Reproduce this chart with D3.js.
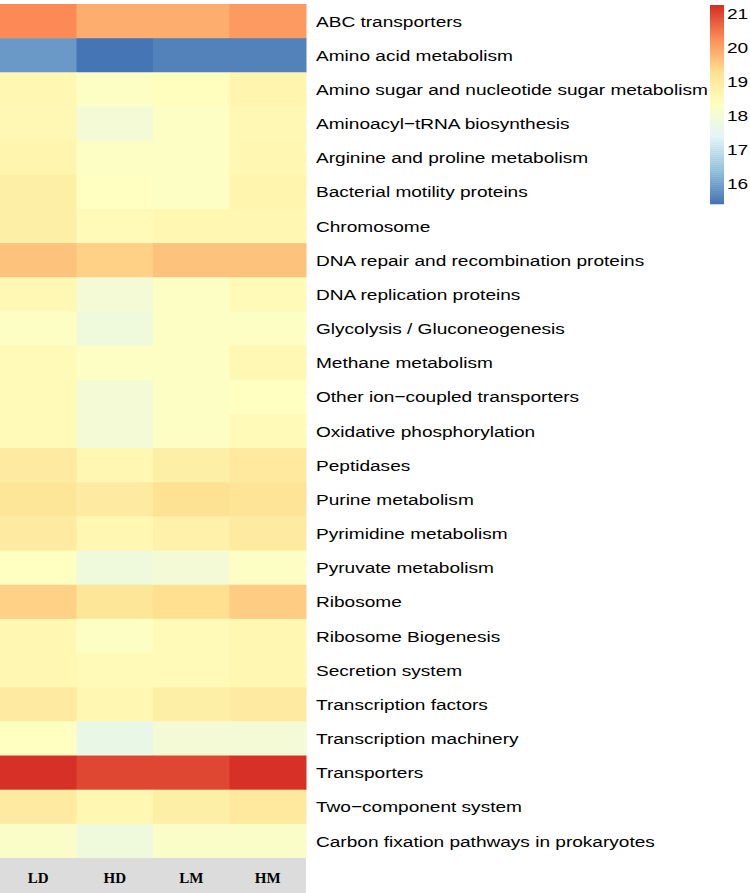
<!DOCTYPE html>
<html lang="en">
<head>
<meta charset="UTF-8">
<title>Heatmap</title>
<script src="https://d3js.org/d3.v7.min.js"></script>
<style>
  body { margin: 0; background: #fff; }
</style>
</head>
<body>
<svg width="750" height="893"></svg>
<script>
    var columns = ["LD", "HD", "LM", "HM"];
    var pathways = [
        "ABC transporters",
        "Amino acid metabolism",
        "Amino sugar and nucleotide sugar metabolism",
        "Aminoacyl\u2212tRNA biosynthesis",
        "Arginine and proline metabolism",
        "Bacterial motility proteins",
        "Chromosome",
        "DNA repair and recombination proteins",
        "DNA replication proteins",
        "Glycolysis / Gluconeogenesis",
        "Methane metabolism",
        "Other ion\u2212coupled transporters",
        "Oxidative phosphorylation",
        "Peptidases",
        "Purine metabolism",
        "Pyrimidine metabolism",
        "Pyruvate metabolism",
        "Ribosome",
        "Ribosome Biogenesis",
        "Secretion system",
        "Transcription factors",
        "Transcription machinery",
        "Transporters",
        "Two\u2212component system",
        "Carbon fixation pathways in prokaryotes"
    ];
    var LD = [20.25, 15.85, 18.6, 18.5, 18.65, 18.8, 18.8, 19.65, 18.5, 18.2, 18.45, 18.45, 18.45, 18.95, 19.1, 18.95, 18.3, 19.45, 18.55, 18.55, 18.95, 18.3, 21.2, 18.95, 18.15];
    var HD = [19.85, 15.38, 18.2, 17.9, 18.25, 18.3, 18.45, 19.45, 17.9, 17.8, 18.25, 17.95, 17.95, 18.6, 18.9, 18.6, 17.8, 19.1, 18.25, 18.45, 18.6, 17.65, 20.95, 18.6, 17.8];
    var LM = [19.85, 15.57, 18.35, 18.25, 18.25, 18.25, 18.6, 19.65, 18.25, 18.25, 18.25, 18.25, 18.25, 18.8, 19.2, 18.75, 17.95, 19.25, 18.45, 18.45, 18.8, 17.95, 20.95, 18.8, 18.15];
    var HM = [20.1, 15.6, 18.65, 18.5, 18.55, 18.65, 18.6, 19.65, 18.45, 18.25, 18.5, 18.3, 18.45, 19.0, 19.15, 18.95, 18.25, 19.5, 18.6, 18.6, 18.95, 17.95, 21.24, 19.0, 18.15];
    var legendTicks = [16, 17, 18, 19, 20, 21];

    var series = {LD: LD, HD: HD, LM: LM, HM: HM};
    var cells = [];
    pathways.forEach(function (p, i) {
        columns.forEach(function (c) {
            cells.push({row: p, col: c, value: series[c][i]});
        });
    });

    var vmin = d3.min(cells, function (d) { return d.value; });
    var vmax = d3.max(cells, function (d) { return d.value; });

    // pheatmap default: rev(RdYlBu 7) ramped to 100 colours
    var ramp = ["#4575B4", "#91BFDB", "#E0F3F8", "#FFFFBF", "#FEE090", "#FC8D59", "#D73027"];
    var interp = d3.piecewise(d3.interpolateRgb, ramp);
    var palette = d3.range(100).map(function (i) { return interp(i / 99); });
    var color = d3.scaleQuantize().domain([vmin, vmax]).range(palette);

    var svg = d3.select("svg");
    var textScale = 1.23;

    var x = d3.scaleBand().domain(columns).range([0, 306]);
    var y = d3.scaleBand().domain(pathways).range([4, 858]);

    svg.append("g")
        .selectAll("rect")
        .data(cells)
        .enter().append("rect")
        .attr("x", function (d) { return x(d.col); })
        .attr("y", function (d) { return y(d.row); })
        .attr("width", x.bandwidth() + 0.5)
        .attr("height", y.bandwidth() + 0.5)
        .attr("fill", function (d) { return color(d.value); });

    // row labels
    svg.append("g")
        .selectAll("text")
        .data(pathways)
        .enter().append("text")
        .attr("transform", function (d) {
            return "translate(316," + (y(d) + y.bandwidth() / 2) + ") scale(" + textScale + ",1)";
        })
        .attr("dy", "0.36em")
        .attr("font-family", "Liberation Sans, Arial, sans-serif")
        .attr("font-size", 15.5)
        .attr("fill", "#000")
        .text(function (d) { return d; });

    // column label band
    svg.append("rect")
        .attr("x", 0)
        .attr("y", 858)
        .attr("width", 306)
        .attr("height", 35)
        .attr("fill", "#DCDCDC");

    svg.append("g")
        .selectAll("text")
        .data(columns)
        .enter().append("text")
        .attr("x", function (d) { return x(d) + x.bandwidth() / 2; })
        .attr("y", 883)
        .attr("text-anchor", "middle")
        .attr("font-family", "Liberation Serif, Times New Roman, serif")
        .attr("font-weight", "bold")
        .attr("font-size", 15)
        .text(function (d) { return d; });

    // legend
    var ly = d3.scaleLinear().domain([vmin, vmax]).range([204, 5]);
    var step = (vmax - vmin) / palette.length;
    svg.append("g")
        .selectAll("rect")
        .data(palette)
        .enter().append("rect")
        .attr("x", 710)
        .attr("width", 14)
        .attr("y", function (d, i) { return ly(vmin + (i + 1) * step); })
        .attr("height", function (d, i) { return ly(vmin + i * step) - ly(vmin + (i + 1) * step) + 0.3; })
        .attr("fill", function (d) { return d; });

    svg.append("g")
        .selectAll("text")
        .data(legendTicks)
        .enter().append("text")
        .attr("transform", function (d) {
            return "translate(727," + ly(d) + ") scale(" + textScale + ",1)";
        })
        .attr("dy", "0.36em")
        .attr("font-family", "Liberation Sans, Arial, sans-serif")
        .attr("font-size", 15.5)
        .attr("fill", "#000")
        .text(function (d) { return d; });
</script>
</body>
</html>
